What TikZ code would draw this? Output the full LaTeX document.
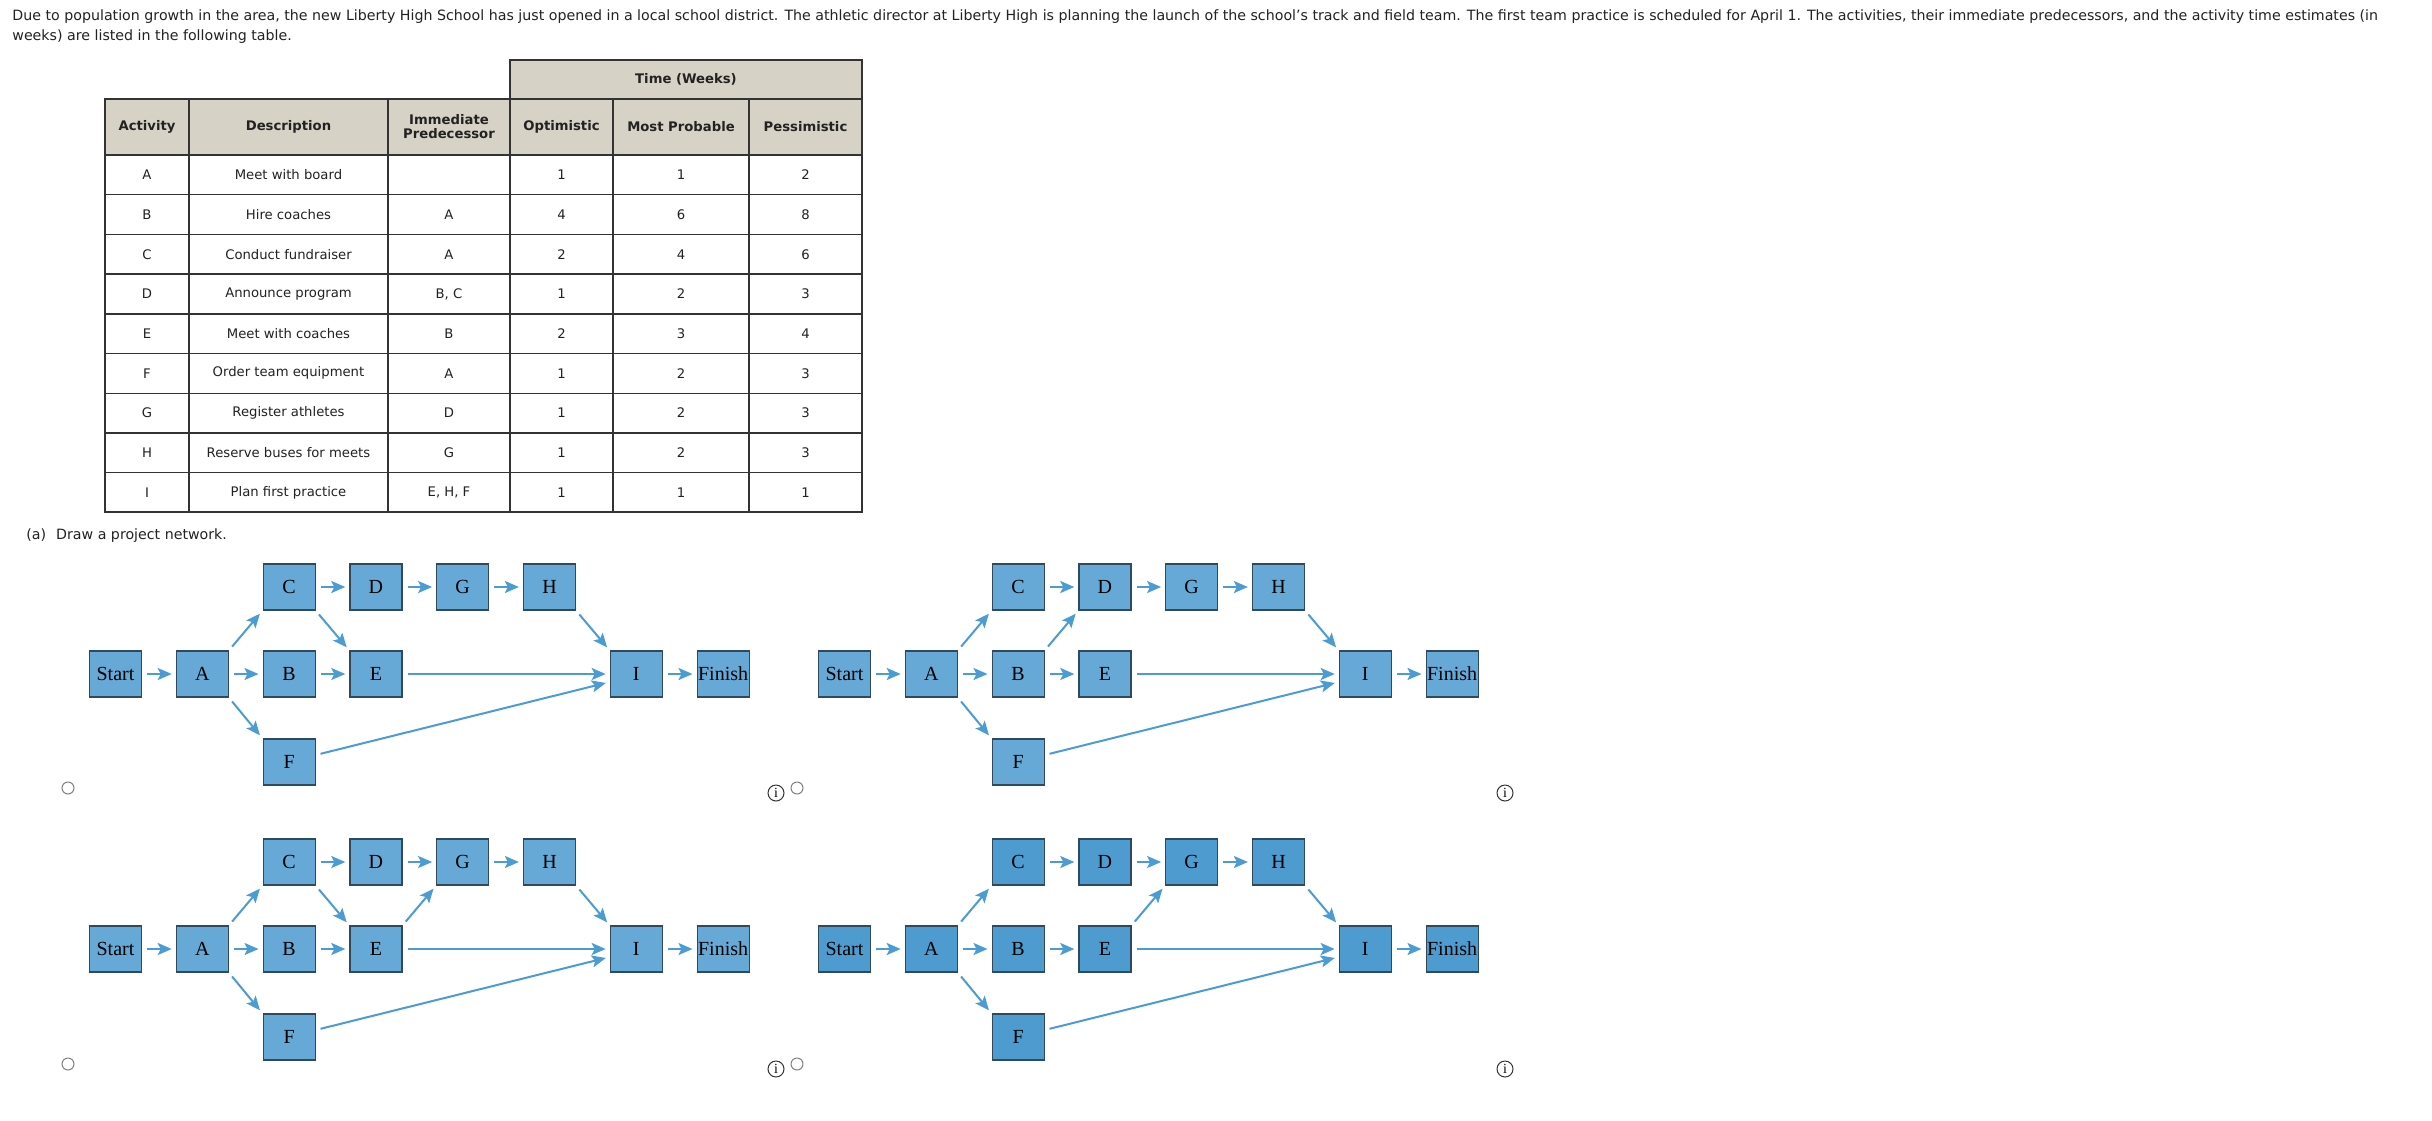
\documentclass[tikz,border=0pt]{standalone}
\usepackage{fontspec}
\setmainfont{DejaVu Sans}
\newfontfamily\netfont{Liberation Serif}
\usetikzlibrary{arrows.meta}
\definecolor{boxfill}{HTML}{67A9D6}
\definecolor{boxfilldark}{HTML}{4E9BD0}
\definecolor{boxline}{HTML}{2E4A5C}
\definecolor{arrowc}{HTML}{4B9CD3}
\definecolor{headfill}{HTML}{D6D2C5}
\definecolor{tline}{HTML}{333333}
\definecolor{txt}{HTML}{222222}
\tikzset{
  netbox/.style={draw=boxline, line width=0.6pt, minimum width=26pt, minimum height=23pt, inner sep=0pt, font=\netfont\fontsize{10}{10}\selectfont, text=black},
  conn/.style={draw=arrowc, line width=1pt, -{Stealth[length=7pt,width=6pt,inset=1.5pt]}, shorten <=2.5pt, shorten >=2pt},
  cell/.style={font=\fontsize{6.6}{8}\selectfont, text=txt, align=center},
  hcell/.style={font=\bfseries\fontsize{6.6}{8}\selectfont, text=txt, align=center},
  radio/.style={draw=gray, line width=0.5pt, fill=white},
  infoc/.style={draw=black!80, line width=0.5pt, circle, inner sep=0pt, minimum size=8pt, font=\netfont\fontsize{7}{7}\selectfont}
}
\newcommand\drawnet[5]{% prefix, dx, dy, fill, variant
\begin{scope}[shift={(#2,#3)}]
\node[netbox, fill=#4] (#1S) at (115.5,674) {Start};
\node[netbox, fill=#4] (#1A) at (202.3,674) {A};
\node[netbox, fill=#4] (#1B) at (289.1,674) {B};
\node[netbox, fill=#4] (#1E) at (375.9,674) {E};
\node[netbox, fill=#4] (#1C) at (289.1,587) {C};
\node[netbox, fill=#4] (#1D) at (375.9,587) {D};
\node[netbox, fill=#4] (#1G) at (462.7,587) {G};
\node[netbox, fill=#4] (#1H) at (549.5,587) {H};
\node[netbox, fill=#4] (#1F) at (289.1,762) {F};
\node[netbox, fill=#4] (#1I) at (636.3,674) {I};
\node[netbox, fill=#4] (#1N) at (723.1,674) {Finish};
\end{scope}
\draw[conn] (#1S) -- (#1A);
\draw[conn] (#1A) -- (#1B);
\draw[conn] (#1B) -- (#1E);
\draw[conn] (#1C) -- (#1D);
\draw[conn] (#1D) -- (#1G);
\draw[conn] (#1G) -- (#1H);
\draw[conn] (#1I) -- (#1N);
\draw[conn] (#1A.north east) -- (#1C.south west);
\draw[conn] (#1A.south east) -- (#1F.north west);
\draw[conn] (#1H.south east) -- (#1I.north west);
\draw[conn] (#1E.east) -- (#1I.west);
\draw[conn] ([yshift=3.5pt]#1F.east) -- ([yshift=-4pt]#1I.west);
\ifcase#5
  \draw[conn] (#1C.south east) -- (#1E.north west);
\or
  \draw[conn] (#1B.north east) -- (#1D.south west);
\or
  \draw[conn] (#1C.south east) -- (#1E.north west);
  \draw[conn] (#1E.north east) -- (#1G.south west);
\or
  \draw[conn] (#1E.north east) -- (#1G.south west);
\fi
}
\begin{document}
\begin{tikzpicture}[x=0.5pt,y=-0.5pt]
\useasboundingbox (0,0) rectangle (2432,1120);
\fill[white] (0,0) rectangle (2432,1120);
% intro text
\node[anchor=base west, inner sep=0pt, font=\fontsize{7.1}{8}\selectfont, text=txt] (t1) at (12,20) {Due to population growth in the area, the new Liberty High School has just opened in a local school district. The athletic director at Liberty High is planning the launch of the school's track and field team. The first team practice is scheduled for April 1. The activities, their immediate predecessors, and the activity time estimates (in};
\node[anchor=base west, inner sep=0pt, font=\fontsize{7.1}{8}\selectfont, text=txt] (t2) at (12,40) {weeks) are listed in the following table.};
% table
\fill[headfill] (510,60) rectangle (862,99);
\fill[headfill] (105,99) rectangle (862,155);
\draw[tline, line width=0.7pt] (510,60) rectangle (862,99);
\draw[tline, line width=0.7pt] (105,99) rectangle (862,512);
\foreach \x in {189,388,510,613,749} \draw[tline, line width=0.7pt] (\x,99) -- (\x,512);
\foreach \i in {0,...,8} \draw[tline, line width=0.7pt] (105,{155+39.7*\i}) -- (862,{155+39.7*\i});
\node[hcell] (th) at (686,79.5) {Time (Weeks)};
\node[hcell] (h1) at (147,127) {Activity};
\node[hcell] (h2) at (288.5,127) {Description};
\node[hcell] (h3) at (449,127) {Immediate\\[-1pt]Predecessor};
\node[hcell] (h4) at (561.5,127) {Optimistic};
\node[hcell] (h5) at (681,127) {Most Probable};
\node[hcell] (h6) at (805.5,127) {Pessimistic};
\foreach \a/\d/\p/\o/\m/\s [count=\i from 0] in {A/Meet with board//1/1/2, B/Hire coaches/A/4/6/8, C/Conduct fundraiser/A/2/4/6, D/Announce program/{B, C}/1/2/3, E/Meet with coaches/B/2/3/4, F/Order team equipment/A/1/2/3, G/Register athletes/D/1/2/3, H/Reserve buses for meets/G/1/2/3, I/Plan first practice/{E, H, F}/1/1/1} {
  \pgfmathsetmacro\yy{174.85+39.7*\i}
  \node[cell] at (147,\yy) {\a};
  \node[cell] at (288.5,\yy) {\d};
  \node[cell] at (449,\yy) {\p};
  \node[cell] at (561.5,\yy) {\o};
  \node[cell] at (681,\yy) {\m};
  \node[cell] at (805.5,\yy) {\s};
}
\node[anchor=base west, inner sep=0pt, font=\fontsize{7.1}{8}\selectfont, text=txt] (qa) at (26,539) {(a)\hspace{5pt}Draw a project network.};
% networks
\drawnet{p}{0}{0}{boxfill}{0}
\drawnet{q}{729}{0}{boxfill}{1}
\drawnet{r}{0}{275}{boxfill}{2}
\drawnet{s}{729}{275}{boxfilldark}{3}
% radios and info icons
\draw[radio] (68,788) circle (6);
\draw[radio] (797,788) circle (6);
\draw[radio] (68,1064) circle (6);
\draw[radio] (797,1064) circle (6);
\node[infoc] (i1) at (776,793) {i};
\node[infoc] (i2) at (1505,793) {i};
\node[infoc] (i3) at (776,1069) {i};
\node[infoc] (i4) at (1505,1069) {i};
\end{tikzpicture}
\end{document}
